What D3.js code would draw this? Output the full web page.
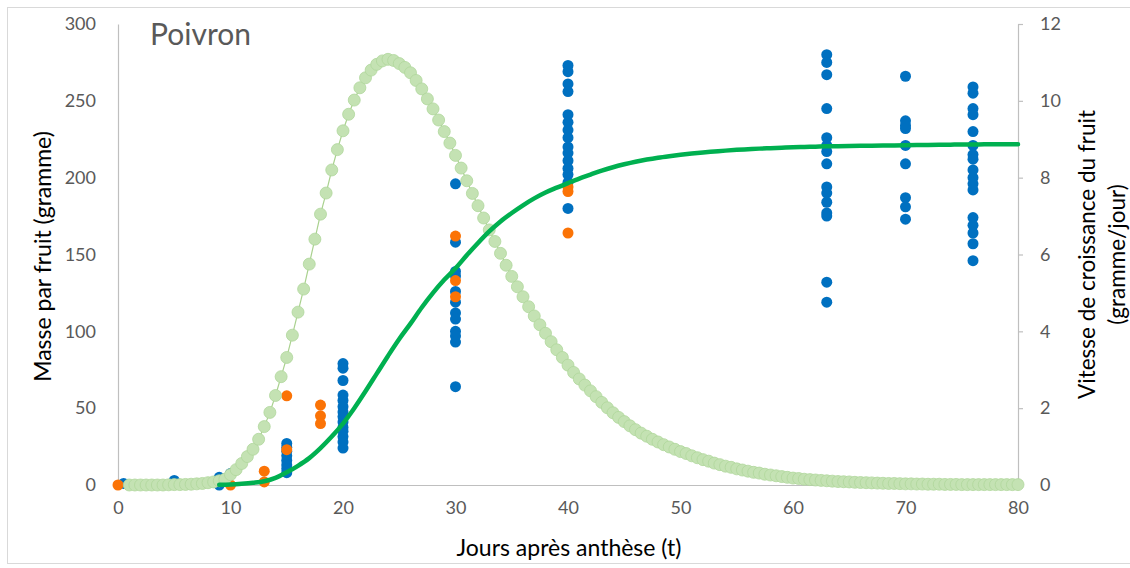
<!DOCTYPE html>
<html>
<head>
<meta charset="utf-8">
<script src="https://cdnjs.cloudflare.com/ajax/libs/d3/7.8.5/d3.min.js"></script>
<style>
    body { margin: 0; background: #fff; }
    #chart-area { width: 1130px; height: 568px; }
    text { font-family: Lato, "Noto Sans", sans-serif; }
</style>
</head>
<body>
<div id="chart-area"></div>
<script>

// observed fruit mass (gramme), grouped by day
let blueDays = [0.5, 5, 9, 10, 15, 20, 30, 40, 63, 70, 76];
let blueMass = [
    [1],
    [3],
    [0, 5],
    [7.5],
    [27, 24.5, 22, 19, 16, 13, 10.5, 8],
    [79, 76, 68, 58.5, 55, 51, 47.5, 44.5, 41, 37.5, 35, 31.5, 28, 24],
    [196, 158, 139, 136, 126, 119, 112, 108, 100, 97, 93, 64],
    [273, 269, 261, 256, 241, 236, 231, 226, 220, 216, 211, 206, 202, 197, 180],
    [280, 275, 267, 245, 226, 221, 217, 209, 194, 190, 184, 177, 175, 132, 119],
    [266, 237, 234, 232, 221, 209, 187, 181, 173],
    [259, 255, 245, 241, 230, 221, 215, 212, 205, 200, 196, 192, 174, 169, 164, 157, 146]
];
let orangeDays = [0, 10, 13, 15, 18, 30, 40];
let orangeMass = [
    [0],
    [0],
    [9, 2],
    [23, 58],
    [52, 45, 40],
    [162, 133, 122.5],
    [194, 191, 164]
];

// fitted mass curve, one value per day from day 9 to 80
let fitStart = 9;
let fitMass = [
    0.1,
    0.3, 0.75, 1.4, 2.4, 4.6, 8.3, 12.5, 17.5, 24, 31.5,
    40, 50, 61, 72.5, 84, 95, 105, 115.5, 125, 133.5,
    141, 149.5, 157.5, 165, 171.5, 177, 182, 186.5, 190.3, 193.5,
    196.5, 199.4, 202, 204.6, 206.8, 208.7, 210.4, 211.8, 213, 214,
    214.9, 215.7, 216.4, 217, 217.6, 218.1, 218.5, 218.9, 219.2, 219.5,
    219.8, 220, 220.2, 220.4, 220.5, 220.6, 220.7, 220.8, 220.9, 221,
    221.1, 221.2, 221.3, 221.4, 221.5, 221.6, 221.6, 221.7, 221.7, 221.8,
    221.8
];

// growth rate (gramme/jour), every half day from day 1 to day 80
let rateStart = 1;
let rateStep = 0.5;
let growthRate = [
    0, 0, 0, 0, 0, 0, 0, 0.005, 0.01, 0.01,
    0.015, 0.02, 0.03, 0.04, 0.06, 0.08, 0.11, 0.15, 0.27, 0.4,
    0.56, 0.74, 0.93, 1.19, 1.52, 1.89, 2.33, 2.82, 3.32, 3.9,
    4.5, 5.1, 5.75, 6.4, 7.05, 7.6, 8.2, 8.73, 9.22, 9.65,
    10.02, 10.34, 10.6, 10.8, 10.95, 11.04, 11.08, 11.05, 10.97, 10.87,
    10.73, 10.53, 10.31, 10.05, 9.79, 9.5, 9.2, 8.9, 8.58, 8.25,
    7.92, 7.59, 7.27, 6.95, 6.64, 6.34, 6.03, 5.72, 5.43, 5.16,
    4.9, 4.64, 4.4, 4.17, 3.95, 3.73, 3.52, 3.32, 3.12, 2.93,
    2.76, 2.6, 2.45, 2.3, 2.15, 2.01, 1.88, 1.76, 1.65, 1.54,
    1.44, 1.35, 1.27, 1.19, 1.12, 1.05, 0.99, 0.93, 0.87, 0.82,
    0.76, 0.71, 0.66, 0.62, 0.57, 0.53, 0.49, 0.46, 0.42, 0.39,
    0.36, 0.33, 0.31, 0.28, 0.26, 0.24, 0.22, 0.2, 0.18, 0.17,
    0.15, 0.14, 0.13, 0.12, 0.11, 0.1, 0.09, 0.085, 0.08, 0.07,
    0.065, 0.06, 0.055, 0.05, 0.045, 0.04, 0.04, 0.035, 0.03, 0.03,
    0.025, 0.025, 0.02, 0.02, 0.02, 0.015, 0.015, 0.015, 0.01, 0.01,
    0.01, 0.01, 0.01, 0.01, 0.01, 0.01, 0.01, 0.01, 0.01
];

let xTicks = [0, 10, 20, 30, 40, 50, 60, 70, 80];
let massTicks = [0, 50, 100, 150, 200, 250, 300];
let rateTicks = [0, 2, 4, 6, 8, 10, 12];


class GrowthVis {

    constructor(parentElement) {
        this.parentElement = parentElement;
        this.initVis();
    }

    initVis() {
        let vis = this;

        vis.margin = {top: 24, right: 112, bottom: 83, left: 118};
        vis.totalW = 1130;
        vis.totalH = 568;
        vis.width = vis.totalW - vis.margin.left - vis.margin.right;
        vis.height = vis.totalH - vis.margin.top - vis.margin.bottom;

        vis.svg = d3.select("#" + vis.parentElement).append("svg")
            .attr("width", vis.totalW)
            .attr("height", vis.totalH);

        // chart frame
        vis.svg.append("rect")
            .attr("x", 7.5).attr("y", 7.5)
            .attr("width", vis.totalW)
            .attr("height", 556)
            .attr("fill", "none")
            .attr("stroke", "#d9d9d9");

        vis.g = vis.svg.append("g")
            .attr("transform", `translate(${vis.margin.left}, ${vis.margin.top})`);

        vis.x = d3.scaleLinear().domain([0, 80]).range([0, vis.width]);
        vis.y = d3.scaleLinear().domain([0, 300]).range([vis.height, 0]);
        vis.y2 = d3.scaleLinear().domain([0, 12]).range([vis.height, 0]);

        // axes
        vis.xAxis = vis.g.append("g")
            .attr("class", "axis")
            .attr("transform", `translate(0, ${vis.height})`)
            .call(d3.axisBottom(vis.x).tickValues(xTicks).tickSize(0).tickPadding(16));

        vis.yAxis = vis.g.append("g")
            .attr("class", "axis")
            .call(d3.axisLeft(vis.y).tickValues(massTicks).tickSize(0).tickPadding(22));

        vis.y2Axis = vis.g.append("g")
            .attr("class", "axis")
            .attr("transform", `translate(${vis.width}, 0)`)
            .call(d3.axisRight(vis.y2).tickValues(rateTicks).tickSizeInner(5).tickSizeOuter(0).tickPadding(17));

        vis.g.selectAll(".axis path, .axis line")
            .attr("stroke", "#bfbfbf")
            .attr("stroke-width", 1.2);
        vis.g.selectAll(".axis text")
            .attr("fill", "#595959")
            .style("font-size", "18px");

        // axis titles
        vis.svg.append("text")
            .attr("transform", `translate(43, ${vis.margin.top + vis.height / 2 + 2}) rotate(-90)`)
            .attr("dy", "0.35em")
            .attr("text-anchor", "middle")
            .style("font-size", "23px")
            .text("Masse par fruit (gramme)");

        vis.svg.append("text")
            .attr("transform", `translate(1087, ${vis.margin.top + vis.height / 2}) rotate(-90)`)
            .attr("dy", "0.35em")
            .attr("text-anchor", "middle")
            .style("font-size", "22.5px")
            .text("Vitesse de croissance du fruit");

        vis.svg.append("text")
            .attr("transform", `translate(1117, ${vis.margin.top + vis.height / 2}) rotate(-90)`)
            .attr("dy", "0.35em")
            .attr("text-anchor", "middle")
            .style("font-size", "22.5px")
            .text("(gramme/jour)");

        vis.svg.append("text")
            .attr("x", vis.margin.left + vis.width / 2 + 1)
            .attr("y", 556)
            .attr("text-anchor", "middle")
            .style("font-size", "23px")
            .text("Jours après anthèse (t)");

        vis.svg.append("text")
            .attr("x", 150)
            .attr("y", 45)
            .attr("fill", "#595959")
            .style("font-size", "30px")
            .text("Poivron");

        vis.wrangleData();
    }

    wrangleData() {
        let vis = this;

        vis.bluePts = [];
        blueDays.forEach((d, i) => blueMass[i].forEach(m => vis.bluePts.push({day: d, mass: m})));

        vis.orangePts = [];
        orangeDays.forEach((d, i) => orangeMass[i].forEach(m => vis.orangePts.push({day: d, mass: m})));

        vis.fitPts = fitMass.map((m, i) => ({day: fitStart + i, mass: m}));
        vis.ratePts = growthRate.map((r, i) => ({day: rateStart + i * rateStep, rate: r}));

        vis.updateVis();
    }

    updateVis() {
        let vis = this;

        vis.g.selectAll(".blue-dot")
            .data(vis.bluePts)
            .enter().append("circle")
            .attr("class", "blue-dot")
            .attr("cx", d => vis.x(d.day))
            .attr("cy", d => vis.y(d.mass))
            .attr("r", 5.5)
            .attr("fill", "#0070c0");

        vis.g.selectAll(".orange-dot")
            .data(vis.orangePts)
            .enter().append("circle")
            .attr("class", "orange-dot")
            .attr("cx", d => vis.x(d.day))
            .attr("cy", d => vis.y(d.mass))
            .attr("r", 5.5)
            .attr("fill", "#fb7306");

        // growth rate: light dots joined by a thin line
        let rateLine = d3.line()
            .x(d => vis.x(d.day))
            .y(d => vis.y2(d.rate));

        vis.g.append("path")
            .datum(vis.ratePts)
            .attr("d", rateLine)
            .attr("fill", "none")
            .attr("stroke", "#a9d18e")
            .attr("stroke-width", 1.2);

        vis.g.selectAll(".rate-dot")
            .data(vis.ratePts)
            .enter().append("circle")
            .attr("class", "rate-dot")
            .attr("cx", d => vis.x(d.day))
            .attr("cy", d => vis.y2(d.rate))
            .attr("r", 6)
            .attr("fill", "#c4e2b3")
            .attr("stroke", "#b0d79c")
            .attr("stroke-width", 0.8);

        // fitted mass curve
        let massLine = d3.line()
            .x(d => vis.x(d.day))
            .y(d => vis.y(d.mass))
            .curve(d3.curveMonotoneX);

        vis.g.append("path")
            .datum(vis.fitPts)
            .attr("d", massLine)
            .attr("fill", "none")
            .attr("stroke", "#00b050")
            .attr("stroke-width", 4.5)
            .attr("stroke-linecap", "round");
    }
}

new GrowthVis("chart-area");

</script>
</body>
</html>
